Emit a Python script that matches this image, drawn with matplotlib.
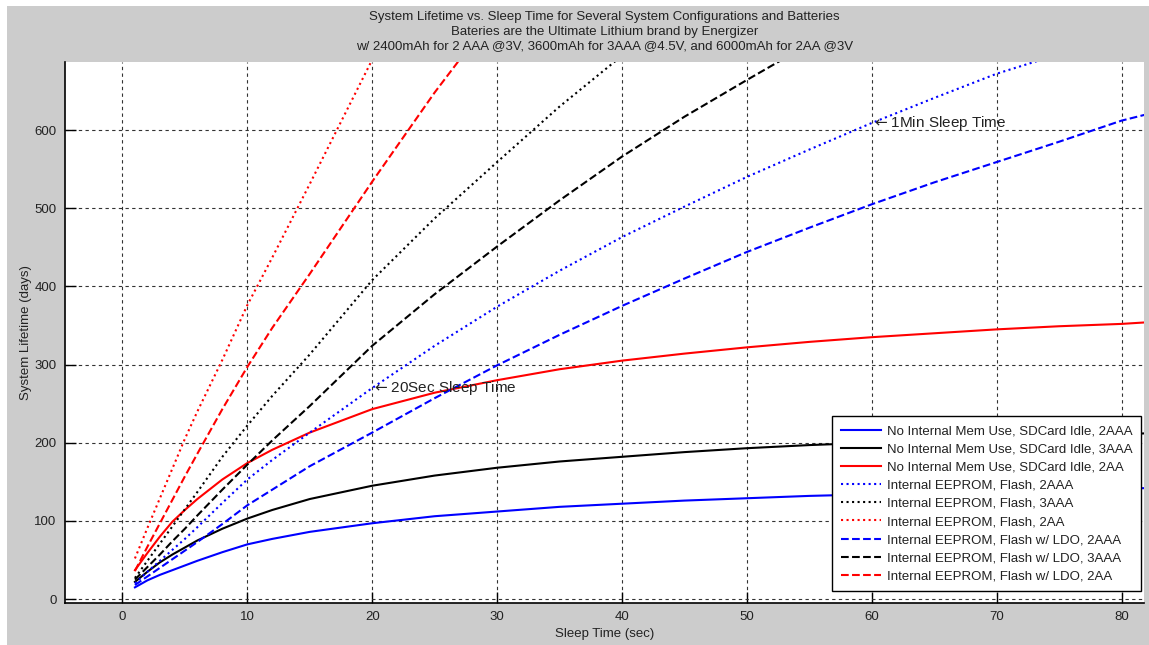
import matplotlib
matplotlib.use('Agg')
import matplotlib.pyplot as plt
from matplotlib.patches import Rectangle

plt.rcParams['font.family'] = ['Liberation Sans', 'DejaVu Sans']
plt.rcParams['font.size'] = 9.5

# 睡眠时间 (sec)
sleep_time = [1, 2, 3, 4, 5, 6, 8, 10, 12, 15, 20, 25, 30, 35, 40, 45, 50, 55, 60, 65, 70, 75, 80, 82]

# 系统寿命 (days)
idle_2aaa = [15, 24, 31, 37, 43, 49, 60, 70, 77, 86, 97, 106, 112, 118, 122, 126, 129, 132, 134, 136, 138, 140, 141, 142]
idle_3aaa = [22, 35, 47, 57, 66, 75, 90, 103, 114, 128, 145, 158, 168, 176, 182, 188, 193, 197, 200, 203, 206, 209, 211, 212]
idle_2aa = [37, 59, 80, 99, 114, 128, 153, 174, 191, 213, 243, 264, 280, 294, 305, 314, 322, 329, 335, 340, 345, 349, 352, 354]
flash_2aaa = [20, 35, 49, 63, 77, 92, 123, 153, 178, 213, 270, 324, 374, 420, 463, 502, 540, 575, 609, 641, 672, 697]
flash_3aaa = [27, 49, 71, 93, 115, 137, 182, 222, 260, 313, 408, 487, 559, 630, 695]
flash_2aa = [52, 91, 129, 167, 205, 240, 306, 376, 437, 531, 690]
ldo_2aaa = [18, 29, 40, 51, 62, 73, 96, 120, 140, 170, 213, 257, 299, 338, 375, 410, 444, 475, 505, 533, 559, 585, 612, 620]
ldo_3aaa = [25, 41, 57, 74, 90, 107, 140, 172, 203, 247, 324, 390, 451, 510, 566, 617, 664, 710]
ldo_2aa = [36, 67, 97, 127, 157, 186, 243, 297, 347, 416, 534, 648, 753]

series = [
    (idle_2aaa, 'b', '-', 'No Internal Mem Use, SDCard Idle, 2AAA'),
    (idle_3aaa, 'k', '-', 'No Internal Mem Use, SDCard Idle, 3AAA'),
    (idle_2aa, 'r', '-', 'No Internal Mem Use, SDCard Idle, 2AA'),
    (flash_2aaa, 'b', ':', 'Internal EEPROM, Flash, 2AAA'),
    (flash_3aaa, 'k', ':', 'Internal EEPROM, Flash, 3AAA'),
    (flash_2aa, 'r', ':', 'Internal EEPROM, Flash, 2AA'),
    (ldo_2aaa, 'b', '--', 'Internal EEPROM, Flash w/ LDO, 2AAA'),
    (ldo_3aaa, 'k', '--', 'Internal EEPROM, Flash w/ LDO, 3AAA'),
    (ldo_2aa, 'r', '--', 'Internal EEPROM, Flash w/ LDO, 2AA'),
]

fig = plt.figure(figsize=(11.49, 6.45), dpi=100, facecolor='white')
# 灰色背景 (左上留白边)
fig.patches.append(Rectangle((7 / 1149, 0), 1, 1 - 6 / 645, transform=fig.transFigure,
                             facecolor='#cccccc', edgecolor='none', zorder=-10))

ax = fig.add_axes([65 / 1149, 1 - 603 / 645, (1144 - 65) / 1149, (603 - 62) / 645])
ax.set_facecolor('white')

for values, color, ls, label in series:
    ax.plot(sleep_time[:len(values)], values, color=color, linestyle=ls, lw=1.5, label=label)

ax.set_xlim(-4.6, 81.8)
ax.set_ylim(-5, 687)
ax.set_xticks(range(0, 81, 10))
ax.set_yticks(range(0, 601, 100))
ax.grid(True, color='#333333', linestyle=(0, (3, 3)), lw=0.8)
ax.tick_params(direction='in', length=8, width=1, colors='black', labelcolor='#222222', pad=6)
for side in ['top', 'right']:
    ax.spines[side].set_visible(False)
for side in ['left', 'bottom']:
    ax.spines[side].set_linewidth(1.2)

ax.set_xlabel('Sleep Time (sec)', color='#222222', labelpad=3)
ax.set_ylabel('System Lifetime (days)', color='#222222', labelpad=2)
ax.set_title('System Lifetime vs. Sleep Time for Several System Configurations and Batteries\n'
             'Bateries are the Ultimate Lithium brand by Energizer\n'
             'w/ 2400mAh for 2 AAA @3V, 3600mAh for 3AAA @4.5V, and 6000mAh for 2AA @3V',
             color='#222222', fontsize=9.5, linespacing=1.33, pad=9)

# 标注
ax.text(20, 270, r'$\leftarrow$20Sec Sleep Time', fontsize=11, ha='left', va='center', color='#222222')
ax.text(60, 609, r'$\leftarrow$1Min Sleep Time', fontsize=11, ha='left', va='center', color='#222222')

leg = ax.legend(loc='lower right', bbox_to_anchor=(0.997, 0.022), borderaxespad=0,
                fancybox=False, framealpha=1, edgecolor='black', handlelength=3,
                labelspacing=0.45, borderpad=0.65, handletextpad=0.45)
leg.get_frame().set_linewidth(1)
for t in leg.get_texts():
    t.set_color('#222222')

fig.savefig('out.png', dpi=100, facecolor=fig.get_facecolor())
